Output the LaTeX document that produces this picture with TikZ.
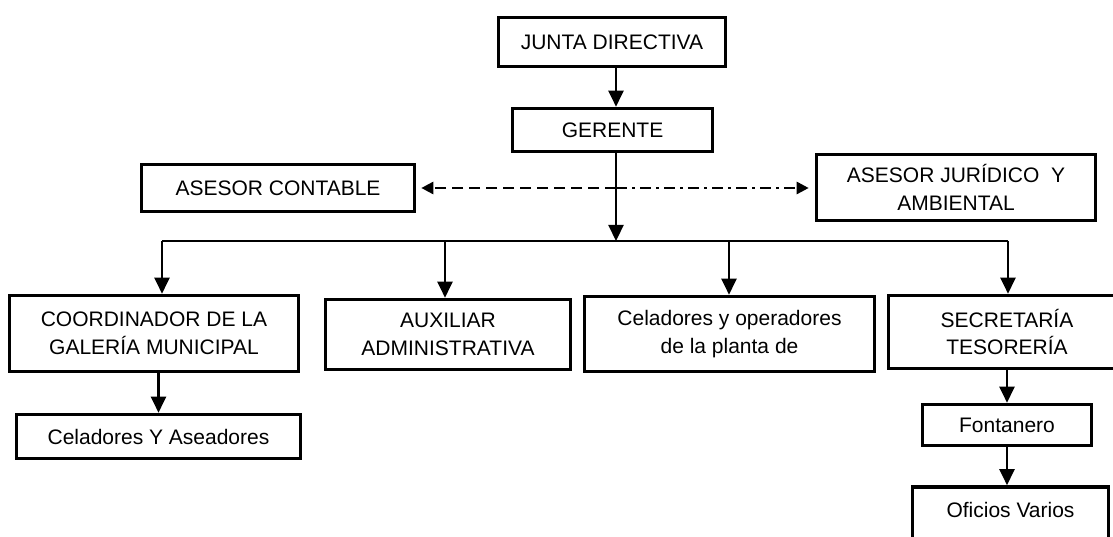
\documentclass[tikz,border=0pt]{standalone}
\usepackage{fontspec}
\setmainfont{Liberation Sans}
\usetikzlibrary{arrows.meta}
\begin{document}
\begin{tikzpicture}[x=1pt,y=-1pt,
  box/.style={draw, line width=3.6pt, inner sep=0pt, align=center, font=\fontsize{21}{27.5}\selectfont},
  arr/.style={line width=2.2pt, -{Triangle[length=16pt,width=15pt]}},
  busline/.style={line width=1.6pt},
  dashL/.style={line width=2.6pt, dash pattern=on 11pt off 6pt, -{Triangle[length=12pt,width=12pt]}, shorten >=5pt},
  dashR/.style={line width=2.6pt, dash pattern=on 11pt off 5pt on 3pt off 5pt, -{Triangle[length=12pt,width=12pt]}, shorten >=6pt}]
\useasboundingbox (0,0) rectangle (1113,537);
\node[box, minimum width=227pt, minimum height=49pt] (junta) at (612,42) {JUNTA DIRECTIVA};
\node[box, minimum width=200pt, minimum height=43pt] (ger) at (612.5,130) {GERENTE};
\node[box, minimum width=273pt, minimum height=47pt] (cont) at (278,188) {ASESOR CONTABLE};
\node[box, minimum width=279pt, minimum height=66pt] (jur) at (956,187.5) {ASESOR JURÍDICO\ \ Y\\AMBIENTAL};
\node[box, minimum width=289pt, minimum height=76pt] (coord) at (154,333.5) {COORDINADOR DE LA\\GALERÍA MUNICIPAL};
\node[box, minimum width=245pt, minimum height=70pt] (aux) at (448,334.5) {AUXILIAR\\ADMINISTRATIVA};
\node[box, minimum width=290pt, minimum height=75pt] (celop) at (729.5,334) {Celadores y operadores\\de la planta de};
\node[box, minimum width=237pt, minimum height=73pt] (sec) at (1007,332) {SECRETARÍA\\TESORERÍA};
\node[box, minimum width=284pt, minimum height=44pt] (cely) at (158.5,436.5) {Celadores Y Aseadores};
\node[box, minimum width=169pt, minimum height=41pt] (font) at (1007,425) {Fontanero};
\node[box, minimum width=196pt, minimum height=74pt] (ofi) at (1010.5,524) {Oficios Varios\\\mbox{}};
\coordinate (busL) at (162,241);
\coordinate (busA) at (445,241);
\coordinate (busM) at (616,241);
\coordinate (busC) at (729,241);
\coordinate (busR) at (1008,241);
\coordinate (dj) at (616,188);
\draw[arr] (junta.south -| busM) -- (ger.north -| busM);
\draw[arr] (ger.south -| busM) -- (busM);
\draw[busline] (busL) -- (busR);
\draw[arr] (busL) -- (busL |- coord.north);
\draw[arr] (busA) -- (busA |- aux.north);
\draw[arr] (busC) -- (busC |- celop.north);
\draw[arr] (busR) -- (busR |- sec.north);
\draw[arr] (coord.south -| cely) -- (cely.north);
\draw[arr] (sec.south -| font) -- (font.north);
\draw[arr] (font.south) -- (ofi.north -| font);
\draw[dashL] (dj) -- (cont.east |- dj);
\draw[dashR] (dj) -- (jur.west |- dj);
\end{tikzpicture}
\end{document}
